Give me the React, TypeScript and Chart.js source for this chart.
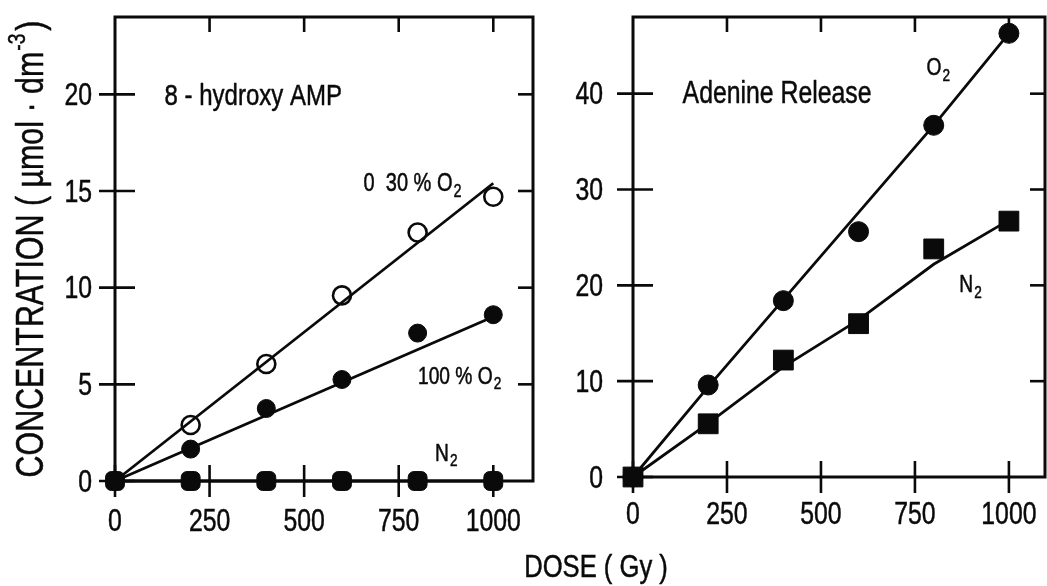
import React, { useEffect, useRef } from "react";
import { Chart, registerables } from "chart.js";

Chart.register(...registerables);

// ---------- data ----------
const xTickValues = [0, 250, 500, 750, 1000];
const xTickLabels = ["0", "250", "500", "750", "1000"];
const leftYTickValues = [0, 5, 10, 15, 20];
const leftYTickLabels = ["0", "5", "10", "15", "20"];
const rightYTickValues = [0, 10, 20, 30, 40];
const rightYTickLabels = ["0", "10", "20", "30", "40"];

const doses = [0, 200, 400, 600, 800, 1000];

// 8-hydroxy AMP panel
const hydroxyLowO2Doses = [200, 400, 600, 800, 1000];
const hydroxyLowO2 = [2.9, 6.05, 9.6, 12.85, 14.7];
const hydroxyHighO2 = [0, 1.65, 3.75, 5.25, 7.65, 8.6];
const hydroxyN2 = [0, 0, 0, 0, 0, 0];
const hydroxyFitDoses = [0, 1000];
const hydroxyLowO2Fit = [0, 15.4];
const hydroxyHighO2Fit = [0, 8.5];
const hydroxyN2Fit = [0, 0];

// Adenine release panel
const adenineO2 = [0, 9.6, 18.4, 25.6, 36.7, 46.3];
const adenineN2 = [0, 5.55, 12.2, 16.0, 23.8, 26.7];
const adenineO2FitDoses = [0, 200, 400, 800, 1000];
const adenineO2Fit = [0, 9.4, 18.5, 36.7, 46.3];
const adenineN2FitDoses = [0, 200, 400, 600, 800, 1000];
const adenineN2Fit = [0, 5.6, 11.5, 16.4, 22.2, 26.8];

const yTitleMain = "CONCENTRATION ( \u00b5mol \u00b7 dm";
const yTitleSup = "-3";
const yTitleEnd = ")";
const xTitle = "DOSE ( Gy )";

// ---------- styling / layout ----------
const FONT = "'Liberation Sans', Arial, sans-serif";
const SX = 0.8; // horizontal condensing of the lettering
const INK = "#0a0a0a";
const TEXT_STROKE = 0.5;

type Label = { text: string; sub?: string; x: number; y: number; size: number };

const leftLabels: Label[] = [
  { text: "8 - hydroxy AMP", x: 131, y: 19.85, size: 30 },
  { text: "0  30 % O", sub: "2", x: 657, y: 15.35, size: 25 },
  { text: "100 % O", sub: "2", x: 801, y: 5.38, size: 24 },
  { text: "N", sub: "2", x: 846, y: 1.4, size: 24 },
];
const rightLabels: Label[] = [
  { text: "Adenine Release", x: 132, y: 39.9, size: 31 },
  { text: "O", sub: "2", x: 781, y: 42.6, size: 24 },
  { text: "N", sub: "2", x: 868, y: 20.0, size: 24 },
];

function pts(xs: number[], ys: number[]) {
  return xs.map((x, i) => ({ x, y: ys[i] }));
}

function textW(ctx: CanvasRenderingContext2D, s: string, size: number) {
  ctx.font = `${size}px ${FONT}`;
  return ctx.measureText(s).width * SX;
}

function drawText(
  ctx: CanvasRenderingContext2D,
  s: string,
  x: number,
  y: number,
  size: number,
  align: CanvasTextAlign
) {
  ctx.save();
  ctx.translate(x, y);
  ctx.scale(SX, 1);
  ctx.font = `${size}px ${FONT}`;
  ctx.textAlign = align;
  ctx.textBaseline = "middle";
  ctx.fillStyle = INK;
  ctx.strokeStyle = INK;
  ctx.lineWidth = TEXT_STROKE;
  ctx.lineJoin = "round";
  ctx.fillText(s, 0, 0);
  ctx.strokeText(s, 0, 0);
  ctx.restore();
}

type PanelCfg = {
  labels: Label[];
  xLabels: string[];
  yLabels: string[];
  xLabelOffset: number;
  yLabelGap: number;
  yTitle?: boolean;
};

function makeFramePlugin(cfg: PanelCfg) {
  return {
    id: "frame",
    beforeDatasetsDraw(chart: any) {
      const { ctx, chartArea: a, scales } = chart;
      const xs = scales.x;
      const ys = scales.y;
      const seg = (x1: number, y1: number, x2: number, y2: number) => {
        ctx.beginPath();
        ctx.moveTo(x1, y1);
        ctx.lineTo(x2, y2);
        ctx.stroke();
      };
      ctx.save();
      ctx.strokeStyle = INK;
      ctx.lineCap = "butt";
      ctx.lineWidth = 3;
      ctx.beginPath();
      ctx.moveTo(a.left, a.bottom);
      ctx.lineTo(a.left, a.top);
      ctx.lineTo(a.right, a.top);
      ctx.lineTo(a.right, a.bottom);
      ctx.closePath();
      ctx.stroke();
      ctx.lineWidth = 2.6;
      for (const t of xs.ticks) {
        const px = xs.getPixelForValue(t.value);
        seg(px, a.bottom - 16, px, a.bottom + 16);
        if (t.value > 0) seg(px, a.top, px, a.top + 15);
      }
      for (const t of ys.ticks) {
        const py = ys.getPixelForValue(t.value);
        seg(a.left - 16, py, a.left + 20, py);
        if (t.value > 0) seg(a.right - 15, py, a.right, py);
      }
      ctx.restore();
    },
    afterDraw(chart: any) {
      const { ctx, scales, chartArea: a } = chart;
      ctx.save();
      // tick labels, at the scales' own ticks
      scales.x.ticks.forEach((t: any, i: number) => {
        drawText(ctx, cfg.xLabels[i], scales.x.getPixelForValue(t.value), a.bottom + cfg.xLabelOffset, 31, "center");
      });
      scales.y.ticks.forEach((t: any, i: number) => {
        drawText(ctx, cfg.yLabels[i], a.left - cfg.yLabelGap, scales.y.getPixelForValue(t.value) + 2, 31, "right");
      });
      // annotations
      for (const l of cfg.labels) {
        const px = scales.x.getPixelForValue(l.x);
        const py = scales.y.getPixelForValue(l.y);
        drawText(ctx, l.text, px, py, l.size, "left");
        if (l.sub) {
          const w = textW(ctx, l.text, l.size);
          drawText(ctx, l.sub, px + w + 1, py + l.size * 0.32, Math.round(l.size * 0.7), "left");
        }
      }
      // y-axis title
      if (cfg.yTitle) {
        const size = 38;
        const supSize = 24;
        const w1 = textW(ctx, yTitleMain, size);
        const w2 = textW(ctx, yTitleSup, supSize);
        const w3 = textW(ctx, yTitleEnd, size);
        const total = w1 + w2 + w3 + 4;
        const cy = (a.top + a.bottom) / 2;
        ctx.translate(33, cy);
        ctx.rotate(-Math.PI / 2);
        let x = -total / 2;
        drawText(ctx, yTitleMain, x, 0, size, "left");
        x += w1 + 1;
        drawText(ctx, yTitleSup, x, -size * 0.38, supSize, "left");
        x += w2 + 3;
        drawText(ctx, yTitleEnd, x, 0, size, "left");
      }
      ctx.restore();
    },
  };
}

function lineDs(data: any[]) {
  return {
    data,
    showLine: true,
    borderColor: INK,
    borderWidth: 2.8,
    pointRadius: 0,
    tension: 0,
    fill: false,
    clip: false as any,
  };
}

function markerDs(data: any[], style: string, radius: number, filled: boolean) {
  return {
    data,
    showLine: false,
    pointStyle: style,
    pointRadius: radius,
    pointBackgroundColor: filled ? INK : "#ffffff",
    pointBorderColor: INK,
    pointBorderWidth: filled ? 1 : 2.6,
    clip: false as any,
  };
}

function zeroPad(s: any) {
  s.paddingTop = 0;
  s.paddingBottom = 0;
  s.paddingLeft = 0;
  s.paddingRight = 0;
}

function panelOptions(p: {
  xMax: number;
  yMax: number;
  yTicks: number[];
  yWidth: number;
  xHeight: number;
  padding: any;
}) {
  return {
    responsive: false,
    animation: false as const,
    events: [] as any[],
    layout: { padding: p.padding },
    plugins: { legend: { display: false }, tooltip: { enabled: false } },
    scales: {
      x: {
        type: "linear" as const,
        min: 0,
        max: p.xMax,
        afterBuildTicks: (s: any) => {
          s.ticks = xTickValues.map((v) => ({ value: v }));
        },
        afterFit: (s: any) => {
          s.height = p.xHeight;
          zeroPad(s);
        },
        grid: { display: false, drawTicks: false },
        border: { display: false },
        ticks: { display: false },
      },
      y: {
        type: "linear" as const,
        min: 0,
        max: p.yMax,
        afterBuildTicks: (s: any) => {
          s.ticks = p.yTicks.map((v) => ({ value: v }));
        },
        afterFit: (s: any) => {
          s.width = p.yWidth;
          zeroPad(s);
        },
        grid: { display: false, drawTicks: false },
        border: { display: false },
        ticks: { display: false },
      },
    },
  };
}

export default function App() {
  const leftRef = useRef<HTMLCanvasElement>(null);
  const rightRef = useRef<HTMLCanvasElement>(null);

  useEffect(() => {
    const left = new Chart(leftRef.current as HTMLCanvasElement, {
      type: "line",
      data: {
        datasets: [
          lineDs(pts(hydroxyFitDoses, hydroxyLowO2Fit)),
          lineDs(pts(hydroxyFitDoses, hydroxyHighO2Fit)),
          lineDs(pts(hydroxyFitDoses, hydroxyN2Fit)),
          markerDs(pts(hydroxyLowO2Doses, hydroxyLowO2), "circle", 9, false),
          markerDs(pts(doses, hydroxyN2), "rectRounded", 11, true),
          markerDs(pts(doses, hydroxyHighO2), "circle", 9, true),
        ] as any,
      },
      options: panelOptions({
        xMax: 1105,
        yMax: 24,
        yTicks: leftYTickValues,
        yWidth: 115,
        xHeight: 105,
        padding: { left: 0, right: 8, top: 17, bottom: 0 },
      }) as any,
      plugins: [
        makeFramePlugin({
          labels: leftLabels,
          xLabels: xTickLabels,
          yLabels: leftYTickLabels,
          xLabelOffset: 41,
          yLabelGap: 23,
          yTitle: true,
        }),
      ],
    });

    const right = new Chart(rightRef.current as HTMLCanvasElement, {
      type: "line",
      data: {
        datasets: [
          lineDs(pts(adenineO2FitDoses, adenineO2Fit)),
          lineDs(pts(adenineN2FitDoses, adenineN2Fit)),
          markerDs(pts(doses, adenineN2), "rect", 14, true),
          markerDs(pts(doses, adenineO2), "circle", 10, true),
        ] as any,
      },
      options: panelOptions({
        xMax: 1096,
        yMax: 48,
        yTicks: rightYTickValues,
        yWidth: 93,
        xHeight: 109,
        padding: { left: 0, right: 10, top: 17, bottom: 0 },
      }) as any,
      plugins: [
        makeFramePlugin({
          labels: rightLabels,
          xLabels: xTickLabels,
          yLabels: rightYTickLabels,
          xLabelOffset: 38,
          yLabelGap: 30,
        }),
      ],
    });

    return () => {
      left.destroy();
      right.destroy();
    };
  }, []);

  return (
    <div
      style={{
        position: "fixed",
        left: 0,
        top: 0,
        width: 1047,
        height: 586,
        overflow: "hidden",
        background: "#ffffff",
      }}
    >
      <canvas
        ref={leftRef}
        width={545}
        height={586}
        style={{ position: "absolute", left: 0, top: 0, width: 545, height: 586 }}
      />
      <canvas
        ref={rightRef}
        width={520}
        height={586}
        style={{ position: "absolute", left: 540, top: 0, width: 520, height: 586 }}
      />
      <div
        style={{
          position: "absolute",
          left: 446,
          top: 548,
          width: 300,
          textAlign: "center",
          fontFamily: FONT,
          fontSize: 32,
          lineHeight: "36px",
          color: INK,
          whiteSpace: "pre",
          transform: `scaleX(${SX})`,
          transformOrigin: "50% 50%",
          WebkitTextStroke: "0.5px #0a0a0a",
        }}
      >
        {xTitle}
      </div>
    </div>
  );
}
